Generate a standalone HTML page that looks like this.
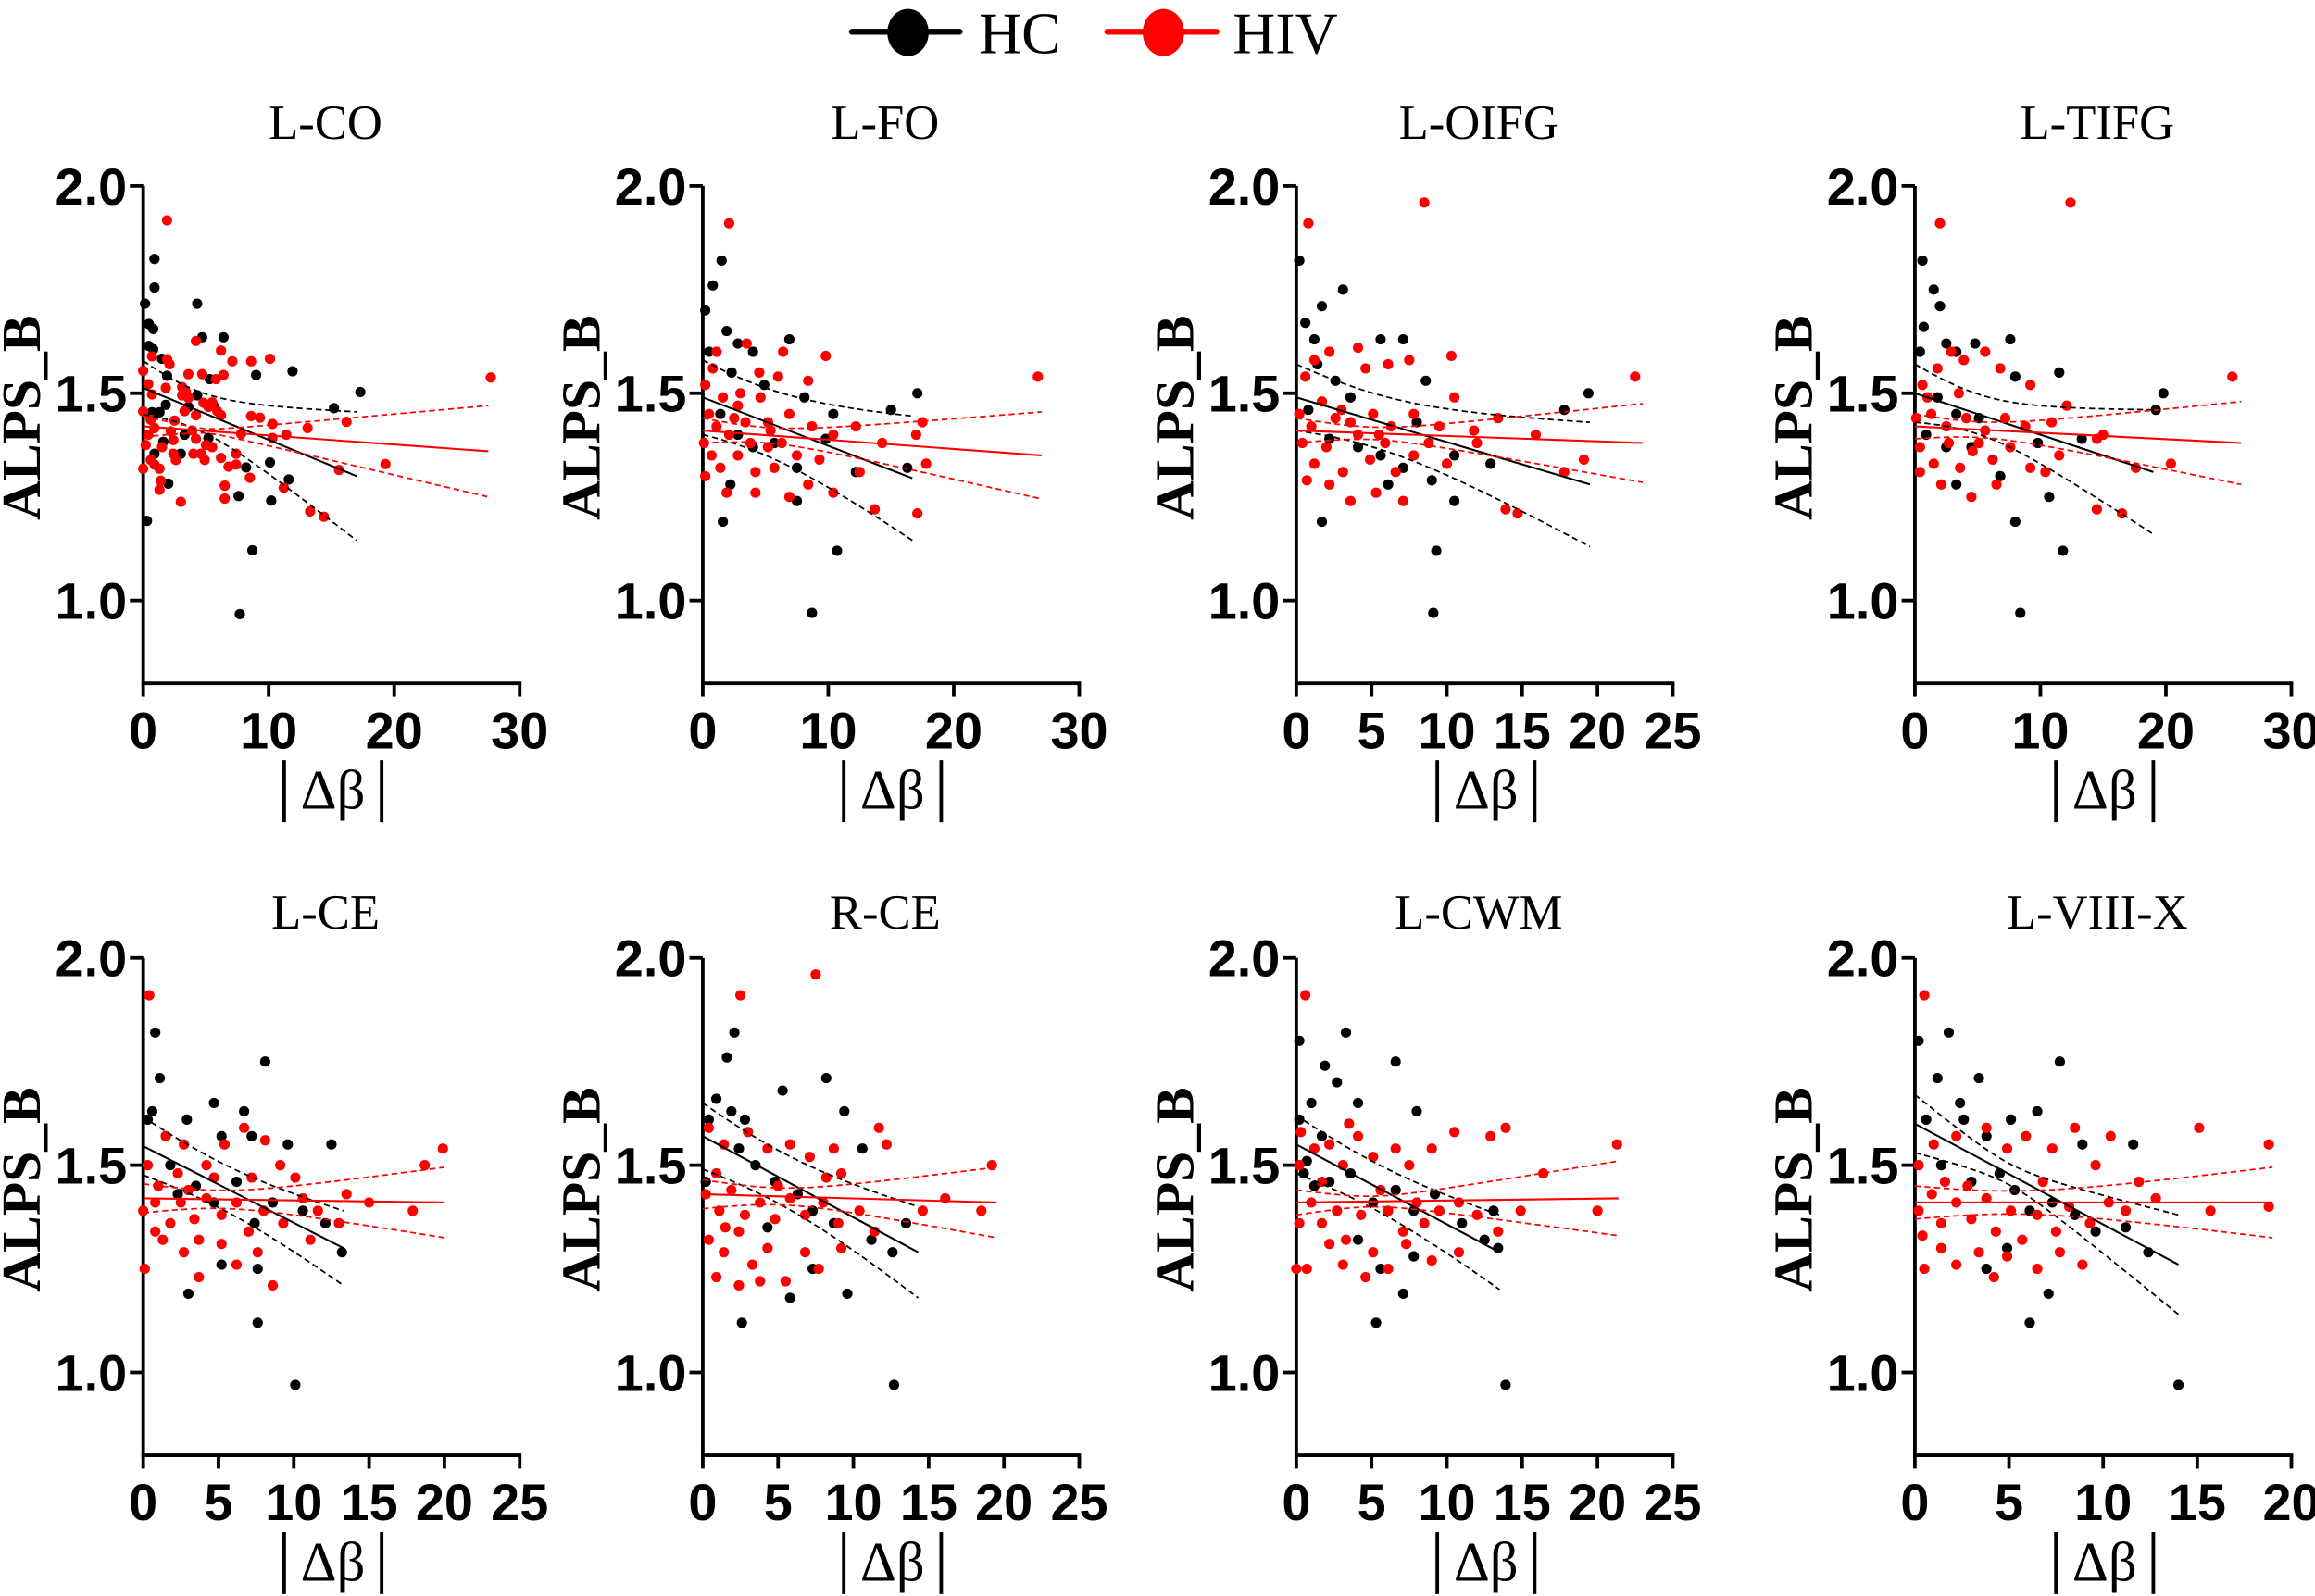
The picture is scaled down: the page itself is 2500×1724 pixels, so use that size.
<!DOCTYPE html>
<html><head><meta charset="utf-8"><style>
html,body{margin:0;padding:0;background:#fff;}
svg{display:block;}
.tick{font-family:"Liberation Sans",Arial,sans-serif;font-weight:bold;font-size:35px;fill:#000;}
.ttl{font-family:"Liberation Serif","Times New Roman",serif;font-size:33px;fill:#000;}
.ylab{font-family:"Liberation Serif","Times New Roman",serif;font-weight:bold;font-size:37px;fill:#000;}
.xlab{font-family:"Liberation Serif","Times New Roman",serif;font-size:38px;fill:#000;}
.leg{font-family:"Liberation Serif","Times New Roman",serif;font-size:40px;fill:#000;}
</style></head><body>
<svg id="chart" width="2500" height="1724" viewBox="0 0 1568 1081.3" preserveAspectRatio="none" xmlns="http://www.w3.org/2000/svg">
<g>
<g>
<line x1="577" y1="21.5" x2="650" y2="21.5" stroke="#000" stroke-width="4" stroke-linecap="round"/>
<ellipse cx="615" cy="22" rx="14" ry="16" fill="#000"/>
<text class="leg" x="663" y="36">HC</text></g>
<g>
<line x1="750" y1="21.5" x2="824" y2="21.5" stroke="#f00" stroke-width="4" stroke-linecap="round"/>
<ellipse cx="788" cy="22" rx="14" ry="16" fill="#f00"/>
<text class="leg" x="835" y="36">HIV</text></g>
</g>
</svg>
<script>
const titles=["L-CO","L-FO","L-OIFG","L-TIFG","L-CE","R-CE","L-CWM","L-VIII-X"];
const xMaxes=[30,30,25,30,25,25,25,20];
const xTickSteps=[10,10,5,10,5,5,5,5];
const yTicks=[1.0,1.5,2.0];
// fits: [y at 0, y at xEnd, xEnd, CI half-width at 0, CI half-width at xEnd, mean x]
const hcFits=[[1.513,1.30,17,0.065,0.155,4],[1.49,1.295,16.7,0.09,0.15,4],[1.49,1.28,19.5,0.08,0.15,5],[1.50,1.31,19,0.07,0.15,5],[1.546,1.30,13.3,0.07,0.09,5],[1.57,1.29,14.3,0.08,0.11,5],[1.55,1.29,13.5,0.07,0.09,5],[1.60,1.26,14,0.07,0.12,5]];
const hivFits=[[1.42,1.36,27.5,0.025,0.11,5],[1.41,1.35,27,0.03,0.105,5],[1.41,1.38,23,0.03,0.095,5],[1.42,1.38,26,0.03,0.10,5],[1.42,1.41,20,0.035,0.085,5],[1.43,1.41,19.5,0.035,0.085,5],[1.41,1.42,21.4,0.03,0.09,5],[1.41,1.41,19,0.04,0.085,5]];
const hcLCO=[[.9,1.824],[.9,1.755],[.15,1.716],[4.3,1.716],[.45,1.667],[.8,1.655],[4.7,1.635],[6.4,1.635],[.45,1.614],[.8,1.606],[1.5,1.583],[1.9,1.542],[5.3,1.534],[9,1.544],[11.9,1.553],[17.3,1.503],[15.2,1.464],[4.3,1.495],[3.6,1.467],[1.8,1.472],[.7,1.454],[1.3,1.454],[3.3,1.40],[1.6,1.383],[5.2,1.392],[.9,1.354],[3,1.354],[10.1,1.333],[8.2,1.321],[11.6,1.292],[2,1.282],[7.6,1.252],[10.2,1.241],[.3,1.192],[8.7,1.121],[7.7,.967],[5.6,1.47]];
const hivLCO=[[1.9,1.917],[0,1.554],[.7,1.589],[1.9,1.582],[2.1,1.57],[4.2,1.626],[6.2,1.603],[7.1,1.577],[8.6,1.577],[10.1,1.583],[3.6,1.546],[4.7,1.546],[5.8,1.534],[6.4,1.544],[.4,1.522],[.7,1.497],[1.8,1.513],[3.1,1.515],[3.4,1.503],[3.6,1.489],[3.1,1.495],[0,1.456],[.6,1.436],[2.5,1.434],[3.3,1.457],[4.2,1.447],[4.8,1.477],[5.2,1.467],[5.5,1.478],[5.9,1.457],[6.2,1.447],[8.6,1.445],[9.3,1.441],[10.3,1.426],[10.3,1.392],[13.1,1.416],[16.2,1.431],[11.4,1.40],[7.8,1.402],[.9,1.416],[2.2,1.408],[2.4,1.387],[.4,1.40],[.2,1.375],[1.5,1.37],[3.9,1.41],[4.2,1.39],[4,1.354],[4.6,1.354],[5,1.375],[5.5,1.37],[4.9,1.339],[2.4,1.354],[2.6,1.339],[.6,1.339],[.9,1.328],[1.3,1.318],[0,1.318],[6.2,1.344],[6.8,1.323],[7.4,1.328],[7.4,1.354],[1.4,1.289],[1.3,1.267],[8.5,1.296],[11.2,1.272],[6.5,1.277],[6.5,1.246],[3,1.238],[19.3,1.329],[15.6,1.315],[13.3,1.215],[14.4,1.202],[27.7,1.538]];
const hcLFO=[[.8,1.76],[1.5,1.82],[.2,1.70],[1.9,1.65],[.5,1.60],[2.8,1.62],[4,1.60],[6.9,1.63],[2.3,1.55],[4.9,1.52],[8.1,1.49],[10.4,1.45],[15,1.46],[17.1,1.50],[1.4,1.45],[2.8,1.40],[4,1.37],[5.7,1.38],[7.5,1.32],[9.8,1.39],[2.2,1.28],[7.5,1.24],[10.7,1.12],[8.7,.97],[1.6,1.19],[16.3,1.32],[12.2,1.31]];
const hivLFO=[[2.1,1.91],[6.4,1.60],[8.4,1.53],[9.8,1.59],[6,1.54],[3.5,1.62],[1.1,1.60],[.2,1.52],[1.6,1.49],[2.8,1.47],[4.6,1.49],[5.2,1.43],[6.9,1.45],[8.7,1.42],[10.4,1.40],[12.2,1.42],[14.3,1.38],[17.5,1.43],[17,1.40],[17.8,1.33],[26.7,1.54],[.1,1.38],[.7,1.35],[1.4,1.32],[2.1,1.40],[2.8,1.35],[3.8,1.38],[4.2,1.31],[5.2,1.37],[5.7,1.32],[6.3,1.38],[7.5,1.35],[8.4,1.28],[9.3,1.34],[10.4,1.26],[1.1,1.42],[2.5,1.44],[3.4,1.43],[5.4,1.41],[.2,1.30],[1.9,1.26],[4.2,1.26],[6.9,1.25],[13.7,1.22],[17.1,1.21],[12.5,1.31],[.5,1.45],[3,1.50],[4.5,1.55],[.8,1.56]];
const hcLOIFG=[[.2,1.82],[.6,1.67],[1.2,1.63],[3.1,1.75],[1.7,1.71],[1.4,1.57],[2.6,1.53],[3.6,1.49],[5.6,1.63],[7.1,1.63],[8.6,1.53],[8,1.43],[17.8,1.46],[19.4,1.50],[.8,1.46],[2.2,1.39],[4.1,1.37],[5.6,1.35],[7.1,1.32],[9,1.29],[10.5,1.35],[1.7,1.19],[9.3,1.12],[9.1,.97],[12.9,1.33],[10.5,1.24],[6.1,1.28]];
const hivLOIFG=[[.8,1.91],[8.5,1.96],[22.5,1.54],[.6,1.54],[1.2,1.58],[2.2,1.60],[4.1,1.61],[4.6,1.56],[6.1,1.57],[7.5,1.58],[10.3,1.59],[.2,1.45],[1.7,1.48],[2.6,1.44],[3.6,1.43],[5.1,1.45],[6.3,1.42],[7.8,1.45],[9.5,1.42],[11.8,1.41],[13.4,1.44],[15.9,1.40],[.4,1.38],[1.2,1.33],[2,1.37],[3.1,1.31],[4.1,1.40],[4.9,1.34],[5.9,1.38],[6.6,1.31],[7.8,1.35],[8.8,1.38],[10,1.33],[.7,1.29],[2.2,1.28],[3.6,1.24],[5.3,1.26],[7.1,1.24],[13.9,1.22],[14.7,1.21],[17.8,1.31],[19.1,1.34],[12,1.38],[10.5,1.49],[1,1.42],[3,1.46],[5.5,1.40]];
const hcLTIFG=[[.6,1.82],[1.5,1.75],[2,1.71],[.7,1.66],[2.5,1.62],[.4,1.60],[3.3,1.60],[4.8,1.62],[7.6,1.63],[8,1.54],[11.5,1.55],[19.2,1.46],[19.8,1.50],[1.8,1.49],[3.3,1.45],[5.1,1.44],[.9,1.40],[2.5,1.37],[4.5,1.37],[6.8,1.30],[9.8,1.38],[13.3,1.39],[8,1.19],[11.8,1.12],[8.4,.97],[10.7,1.25],[3.3,1.28]];
const hivLTIFG=[[2,1.91],[12.4,1.96],[25.3,1.54],[.6,1.52],[1.8,1.56],[2.9,1.60],[3.9,1.58],[5.6,1.60],[6.8,1.56],[9.2,1.52],[.1,1.44],[1.3,1.45],[2.5,1.42],[4.1,1.44],[5.6,1.41],[7.2,1.44],[8.8,1.42],[10.9,1.43],[14.5,1.39],[.4,1.37],[1.5,1.33],[2.7,1.38],[3.6,1.32],[5.1,1.38],[6.2,1.34],[7.6,1.37],[9.2,1.32],[11.5,1.35],[.4,1.31],[2.1,1.28],[4.5,1.25],[6.5,1.28],[14.5,1.22],[16.5,1.21],[17.6,1.32],[20.4,1.33],[15,1.40],[12.1,1.47],[10.4,1.31],[1,1.49],[3.5,1.50],[4.6,1.36]];
const hcLCE=[[.8,1.82],[1.1,1.71],[.6,1.63],[.3,1.61],[1.5,1.57],[1.8,1.50],[2.9,1.61],[4.7,1.65],[5.2,1.57],[6.7,1.63],[7.2,1.57],[8.1,1.75],[9.6,1.55],[12.5,1.55],[2.3,1.43],[3.5,1.45],[4.7,1.41],[6.2,1.46],[7.4,1.36],[8.6,1.41],[10.6,1.39],[12.1,1.36],[13.2,1.29],[3,1.19],[7.6,1.12],[10.1,.97],[7.6,1.25],[5.2,1.26]];
const hivLCE=[[.4,1.91],[.3,1.50],[1.5,1.57],[2.7,1.55],[4.2,1.50],[5.4,1.55],[6.7,1.59],[8.1,1.56],[9.1,1.50],[0,1.39],[.8,1.41],[1.8,1.36],[2.5,1.41],[3.4,1.37],[4.2,1.42],[5.2,1.38],[6.2,1.41],[7,1.34],[8,1.39],[9.3,1.36],[10.6,1.42],[11.6,1.39],[13,1.36],[13.5,1.43],[15,1.41],[19.9,1.54],[18.7,1.50],[17.9,1.39],[.1,1.25],[1.3,1.32],[2.7,1.29],[3.7,1.23],[5.2,1.31],[6.2,1.26],[7.6,1.29],[8.6,1.21],[2.3,1.48],[4.7,1.47],[7.2,1.47],[10.1,1.47],[3.7,1.32],[11.1,1.32],[.8,1.34],[1,1.45],[3,1.44]];
const hcRCE=[[2.1,1.82],[1.6,1.76],[.9,1.66],[1.9,1.63],[.4,1.61],[2.8,1.61],[5.3,1.68],[8.2,1.71],[9.4,1.63],[10.6,1.54],[2.4,1.54],[3.5,1.50],[4.8,1.46],[6.3,1.43],[7.3,1.39],[8.7,1.36],[11.2,1.32],[12.6,1.29],[13.5,1.36],[.2,1.46],[4.3,1.35],[7.3,1.25],[5.8,1.18],[2.6,1.12],[12.7,.97],[9.6,1.19]];
const hivRCE=[[2.5,1.91],[7.5,1.96],[.4,1.59],[1.4,1.55],[3,1.58],[4.3,1.54],[5.8,1.55],[7.1,1.52],[8.7,1.54],[9.2,1.48],[11.7,1.59],[12.2,1.55],[18.5,1.39],[19.2,1.50],[.2,1.43],[1.1,1.39],[1.9,1.44],[2.8,1.38],[3.8,1.41],[4.8,1.37],[5.8,1.42],[6.8,1.38],[8,1.41],[9,1.36],[10.4,1.39],[11.4,1.34],[.4,1.32],[1.4,1.29],[2.4,1.34],[3.3,1.26],[4.3,1.30],[5.5,1.22],[6.8,1.29],[7.7,1.25],[9.2,1.30],[14.6,1.39],[16.1,1.42],[.9,1.23],[2.4,1.21],[3.8,1.22],[8.2,1.47],[.9,1.48],[5,1.45],[1.5,1.35]];
const hcLCWM=[[.2,1.80],[3.3,1.82],[1.9,1.74],[2.7,1.70],[1,1.65],[.2,1.61],[4.1,1.65],[6.6,1.75],[8,1.63],[1.7,1.57],[.7,1.51],[2.2,1.46],[3.6,1.48],[5.1,1.41],[6.6,1.44],[7.8,1.39],[9.2,1.43],[11,1.36],[12.5,1.32],[13.4,1.30],[4.1,1.32],[5.6,1.25],[7.1,1.19],[5.3,1.12],[13.9,.97],[7.8,1.28],[13.1,1.39],[.5,1.48],[1.2,1.45]];
const hivLCWM=[[.6,1.91],[21.3,1.55],[.2,1.50],[1.2,1.54],[2.2,1.55],[3.1,1.50],[4.1,1.57],[5.1,1.52],[6.6,1.54],[7.5,1.50],[9,1.54],[10.5,1.58],[12.9,1.57],[13.9,1.59],[16.4,1.48],[0,1.25],[.2,1.36],[1,1.41],[1.7,1.36],[2.7,1.39],[3.3,1.32],[4.3,1.38],[5.1,1.29],[6.1,1.39],[7.1,1.34],[8,1.41],[8.5,1.36],[9.5,1.39],[10.8,1.41],[12,1.38],[13.4,1.34],[14.9,1.39],[.7,1.25],[2.2,1.31],[3.1,1.26],[4.6,1.23],[6.1,1.25],[7.3,1.31],[9,1.27],[10.8,1.29],[1.7,1.46],[5.6,1.44],[20,1.39],[.3,1.58],[3.5,1.60]];
const hcLVIIIX=[[.2,1.80],[1.8,1.82],[1.2,1.71],[3.4,1.71],[2.4,1.65],[.6,1.61],[2.6,1.61],[3.8,1.57],[5.1,1.61],[6.5,1.63],[7.7,1.75],[8.9,1.55],[11.6,1.55],[1.4,1.50],[3,1.46],[4.5,1.48],[5.3,1.44],[6.1,1.39],[7.3,1.41],[8.5,1.38],[9.6,1.34],[11.2,1.35],[12.4,1.29],[3.8,1.25],[6.1,1.12],[7.1,1.19],[14,.97],[4.9,1.30]];
const hivLVIIIX=[[.5,1.91],[15.1,1.59],[18.8,1.55],[18.8,1.40],[15.7,1.39],[.2,1.50],[1,1.55],[2.2,1.57],[3.8,1.59],[4.9,1.54],[5.9,1.57],[7.3,1.54],[8.5,1.59],[9.6,1.50],[10.4,1.57],[.2,1.39],[.9,1.43],[1.4,1.36],[2.2,1.41],[3,1.37],[3.8,1.42],[4.3,1.34],[5.1,1.39],[5.7,1.32],[6.5,1.38],[7.5,1.34],[8.2,1.40],[9.3,1.36],[10.3,1.41],[11.2,1.39],[12.8,1.42],[.5,1.25],[1.4,1.30],[2.2,1.26],[3.4,1.29],[4.2,1.23],[4.9,1.28],[6.5,1.25],[7.7,1.29],[8.9,1.26],[1.6,1.46],[6.8,1.46],[11.9,1.46],[.4,1.33],[2.8,1.45]];
const hcSets=[hcLCO,hcLFO,hcLOIFG,hcLTIFG,hcLCE,hcRCE,hcLCWM,hcLVIIIX];
const hivSets=[hivLCO,hivLFO,hivLOIFG,hivLTIFG,hivLCE,hivRCE,hivLCWM,hivLVIIIX];

const NS="http://www.w3.org/2000/svg";
const svg=document.getElementById('chart');
const colX0=[97,476,878,1297], plotW=255;
const rowTop=[126,649], plotH=337, yMin=0.8, yMax=2.0;
const titleOffset=[-32,-20];
function mk(tag,attrs,parent){const e=document.createElementNS(NS,tag);for(const k in attrs)e.setAttribute(k,attrs[k]);parent.appendChild(e);return e;}
function slug(s){return s.toLowerCase().replace(/[^a-z0-9]+/g,'-');}

titles.forEach((t,i)=>{
  const row=Math.floor(i/4);
  const x0=colX0[i%4], top=rowTop[row], bot=top+plotH;
  const xm=xMaxes[i];
  const sx=v=>x0+v/xm*plotW;
  const sy=v=>bot-(v-yMin)/(yMax-yMin)*plotH;
  const g=mk('g',{},svg);
  
  
  const title=mk('text',{class:'ttl',x:x0+plotW/2-4,y:top+titleOffset[row],'text-anchor':'middle'},g);
  title.textContent=t;
  
  
  const yAxis=mk('line',{x1:x0,y1:sy(2.0),x2:x0,y2:bot+1.2,stroke:'#000','stroke-width':2.4},g);
  
  
  const xAxis=mk('line',{x1:x0-1.2,y1:bot,x2:sx(xm)+1.2,y2:bot,stroke:'#000','stroke-width':2.4},g);
  
  
  yTicks.forEach(v=>{
    mk('line',{x1:x0-9,y1:sy(v),x2:x0,y2:sy(v),stroke:'#000','stroke-width':2.4},g);
    const tl=mk('text',{class:'tick',x:x0-11,y:sy(v)+12.5,'text-anchor':'end'},g);
    tl.textContent=v.toFixed(1);
    
    
  });
  for(let v=0;v<=xm+1e-9;v+=xTickSteps[i]){
    mk('line',{x1:sx(v),y1:bot,x2:sx(v),y2:bot+9,stroke:'#000','stroke-width':2.4},g);
    const tl=mk('text',{class:'tick',x:sx(v),y:bot+44,'text-anchor':'middle'},g);
    tl.textContent=String(v);
    
    
  }
  const yl=mk('text',{class:'ylab',transform:`translate(${x0-70},${top+157}) rotate(-90)`,'text-anchor':'middle',textLength:139,lengthAdjust:'spacingAndGlyphs'},g);
  yl.textContent='ALPS_B';
  
  
  const xc=x0+128.5;
  const xg=mk('g',{},g);
  
  
  mk('line',{x1:xc-33,y1:bot+52,x2:xc-33,y2:bot+94,stroke:'#000','stroke-width':2.4},xg);
  mk('line',{x1:xc+33,y1:bot+52,x2:xc+33,y2:bot+94,stroke:'#000','stroke-width':2.4},xg);
  const xl=mk('text',{class:'xlab',x:xc,y:bot+85,'text-anchor':'middle'},xg);
  xl.textContent='Δβ';

  [[hcSets[i],'#000','hc'],[hivSets[i],'#f00','hiv']].forEach(([pts,col,nm])=>{
    const sg=mk('g',{},g);
    
    
    pts.forEach(p=>{
      const c=mk('circle',{cx:sx(p[0]),cy:sy(p[1]),r:3.5,fill:col},sg);
      
      
    });
  });
  [[hcFits[i],'#000','hc'],[hivFits[i],'#f00','hiv']].forEach(([fit,col,nm])=>{
    const [y0,y1,xe,h0,h1,xmean]=fit;
    const line=x=>y0+(y1-y0)*x/xe;
    let B=(h1*h1-h0*h0)/((xe-xmean)**2-xmean**2);
    let A=h0*h0-B*xmean*xmean; if(A<0)A=0;
    const hw=x=>Math.sqrt(Math.max(0,A+B*(x-xmean)**2));
    const fl=mk('line',{x1:sx(0),y1:sy(y0),x2:sx(xe),y2:sy(y1),stroke:col,'stroke-width':1.3},g);
    
    
    [1,-1].forEach(sgn=>{
      let d='';
      for(let k=0;k<=40;k++){const x=xe*k/40;d+=(k?'L':'M')+sx(x).toFixed(2)+','+sy(line(x)+sgn*hw(x)).toFixed(2);}
      const p=mk('path',{d:d,fill:'none',stroke:col,'stroke-width':1.1,'stroke-dasharray':'4 2.5'},g);
      
      
    });
  });
});
</script>
</body></html>
